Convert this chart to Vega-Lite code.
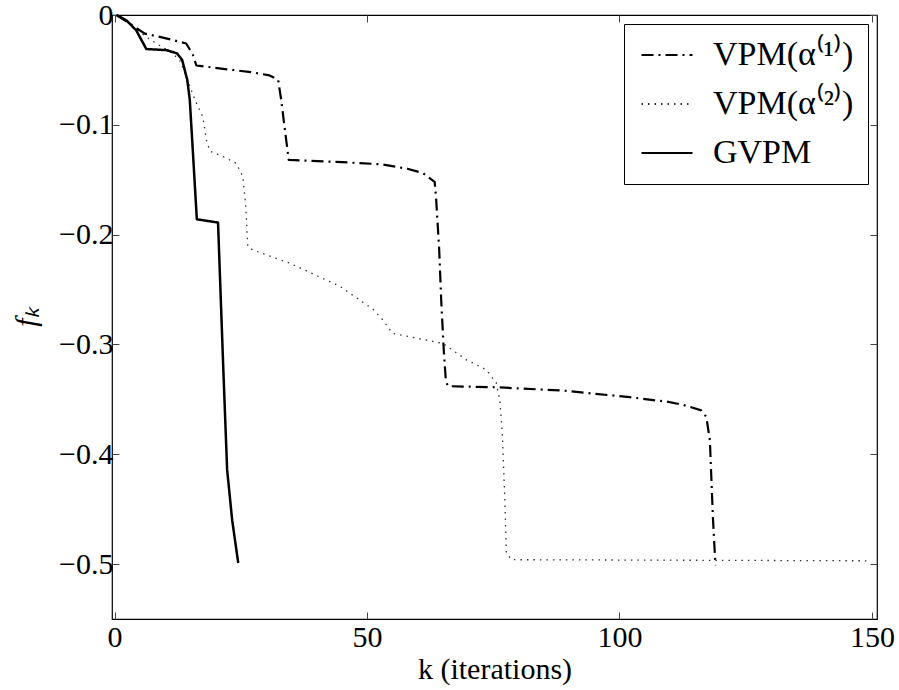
{
  "$schema": "https://vega.github.io/schema/vega-lite/v6.json",
  "width": 765,
  "height": 604,
  "autosize": {"type": "none"},
  "padding": {"left": 112, "top": 15, "right": 22, "bottom": 71},
  "config": {
    "view": {"stroke": "#000", "strokeWidth": 1.2},
    "font": "Liberation Serif, Times New Roman, serif",
    "style": {
      "guide-label": {"font": "Liberation Serif, Times New Roman, serif", "fontSize": 30, "fill": "#000"},
      "guide-title": {"font": "Liberation Serif, Times New Roman, serif", "fontSize": 30, "fill": "#000", "fontWeight": "normal"}
    },
    "axis": {
      "grid": false,
      "domain": false,
      "labelFont": "Liberation Serif, Times New Roman, serif",
      "labelFontSize": 30,
      "labelColor": "#000",
      "tickColor": "#444",
      "tickSize": -7,
      "tickWidth": 1,
      "titleFont": "Liberation Serif, Times New Roman, serif",
      "titleFontSize": 30,
      "titleFontWeight": "normal",
      "titleColor": "#000"
    },
    "legend": {
      "orient": "top-right",
      "offset": 9,
      "padding": 14,
      "strokeColor": "#000",
      "fillColor": "#fff",
      "labelFont": "Liberation Serif, Times New Roman, serif",
      "labelFontSize": 34,
      "labelColor": "#000",
      "labelLimit": 400,
      "symbolType": "M-1.7,0H1.7",
      "symbolSize": 900,
      "symbolStrokeWidth": 2,
      "symbolOffset": 12,
      "labelOffset": 29,
      "rowPadding": 15
    }
  },
  "data": {
    "values": [
      {"s": "GVPM", "k": 0.4, "f": 0},
      {"s": "GVPM", "k": 2.4, "f": -0.005},
      {"s": "GVPM", "k": 4.3, "f": -0.014},
      {"s": "GVPM", "k": 6.3, "f": -0.031},
      {"s": "GVPM", "k": 10.3, "f": -0.032},
      {"s": "GVPM", "k": 12.4, "f": -0.035},
      {"s": "GVPM", "k": 13.4, "f": -0.041},
      {"s": "GVPM", "k": 14.4, "f": -0.059},
      {"s": "GVPM", "k": 14.9, "f": -0.077},
      {"s": "GVPM", "k": 15.5, "f": -0.123},
      {"s": "GVPM", "k": 16.3, "f": -0.186},
      {"s": "GVPM", "k": 20.5, "f": -0.189},
      {"s": "GVPM", "k": 21.5, "f": -0.317},
      {"s": "GVPM", "k": 22.3, "f": -0.414},
      {"s": "GVPM", "k": 23.3, "f": -0.46},
      {"s": "GVPM", "k": 24.5, "f": -0.499},

      {"s": "VPM(α⁽¹⁾)", "k": 0.4, "f": 0},
      {"s": "VPM(α⁽¹⁾)", "k": 2.4, "f": -0.006},
      {"s": "VPM(α⁽¹⁾)", "k": 4, "f": -0.011},
      {"s": "VPM(α⁽¹⁾)", "k": 6, "f": -0.017},
      {"s": "VPM(α⁽¹⁾)", "k": 10, "f": -0.021},
      {"s": "VPM(α⁽¹⁾)", "k": 14.2, "f": -0.026},
      {"s": "VPM(α⁽¹⁾)", "k": 15.5, "f": -0.036},
      {"s": "VPM(α⁽¹⁾)", "k": 16.2, "f": -0.046},
      {"s": "VPM(α⁽¹⁾)", "k": 21.5, "f": -0.049},
      {"s": "VPM(α⁽¹⁾)", "k": 27, "f": -0.052},
      {"s": "VPM(α⁽¹⁾)", "k": 30.7, "f": -0.055},
      {"s": "VPM(α⁽¹⁾)", "k": 32.4, "f": -0.059},
      {"s": "VPM(α⁽¹⁾)", "k": 33, "f": -0.077},
      {"s": "VPM(α⁽¹⁾)", "k": 34, "f": -0.114},
      {"s": "VPM(α⁽¹⁾)", "k": 34.5, "f": -0.132},
      {"s": "VPM(α⁽¹⁾)", "k": 45, "f": -0.134},
      {"s": "VPM(α⁽¹⁾)", "k": 53, "f": -0.136},
      {"s": "VPM(α⁽¹⁾)", "k": 58, "f": -0.14},
      {"s": "VPM(α⁽¹⁾)", "k": 61.1, "f": -0.144},
      {"s": "VPM(α⁽¹⁾)", "k": 63.4, "f": -0.152},
      {"s": "VPM(α⁽¹⁾)", "k": 63.7, "f": -0.168},
      {"s": "VPM(α⁽¹⁾)", "k": 64.3, "f": -0.214},
      {"s": "VPM(α⁽¹⁾)", "k": 64.7, "f": -0.26},
      {"s": "VPM(α⁽¹⁾)", "k": 65.2, "f": -0.305},
      {"s": "VPM(α⁽¹⁾)", "k": 65.6, "f": -0.332},
      {"s": "VPM(α⁽¹⁾)", "k": 66, "f": -0.338},
      {"s": "VPM(α⁽¹⁾)", "k": 75.6, "f": -0.339},
      {"s": "VPM(α⁽¹⁾)", "k": 88.8, "f": -0.342},
      {"s": "VPM(α⁽¹⁾)", "k": 102, "f": -0.348},
      {"s": "VPM(α⁽¹⁾)", "k": 107.3, "f": -0.351},
      {"s": "VPM(α⁽¹⁾)", "k": 109.3, "f": -0.352},
      {"s": "VPM(α⁽¹⁾)", "k": 112.6, "f": -0.355},
      {"s": "VPM(α⁽¹⁾)", "k": 116.2, "f": -0.36},
      {"s": "VPM(α⁽¹⁾)", "k": 117.2, "f": -0.366},
      {"s": "VPM(α⁽¹⁾)", "k": 117.9, "f": -0.387},
      {"s": "VPM(α⁽¹⁾)", "k": 118.5, "f": -0.457},
      {"s": "VPM(α⁽¹⁾)", "k": 119, "f": -0.501},

      {"s": "VPM(α⁽²⁾)", "k": 0.4, "f": 0},
      {"s": "VPM(α⁽²⁾)", "k": 2.4, "f": -0.005},
      {"s": "VPM(α⁽²⁾)", "k": 4.3, "f": -0.013},
      {"s": "VPM(α⁽²⁾)", "k": 6.3, "f": -0.02},
      {"s": "VPM(α⁽²⁾)", "k": 8.3, "f": -0.026},
      {"s": "VPM(α⁽²⁾)", "k": 10.9, "f": -0.033},
      {"s": "VPM(α⁽²⁾)", "k": 12.9, "f": -0.041},
      {"s": "VPM(α⁽²⁾)", "k": 14.2, "f": -0.056},
      {"s": "VPM(α⁽²⁾)", "k": 15.9, "f": -0.077},
      {"s": "VPM(α⁽²⁾)", "k": 17.5, "f": -0.093},
      {"s": "VPM(α⁽²⁾)", "k": 18.2, "f": -0.114},
      {"s": "VPM(α⁽²⁾)", "k": 18.9, "f": -0.124},
      {"s": "VPM(α⁽²⁾)", "k": 21.5, "f": -0.129},
      {"s": "VPM(α⁽²⁾)", "k": 24.1, "f": -0.135},
      {"s": "VPM(α⁽²⁾)", "k": 25.4, "f": -0.147},
      {"s": "VPM(α⁽²⁾)", "k": 26, "f": -0.175},
      {"s": "VPM(α⁽²⁾)", "k": 26.4, "f": -0.211},
      {"s": "VPM(α⁽²⁾)", "k": 27.4, "f": -0.214},
      {"s": "VPM(α⁽²⁾)", "k": 34.7, "f": -0.226},
      {"s": "VPM(α⁽²⁾)", "k": 44.6, "f": -0.247},
      {"s": "VPM(α⁽²⁾)", "k": 51.2, "f": -0.268},
      {"s": "VPM(α⁽²⁾)", "k": 53, "f": -0.277},
      {"s": "VPM(α⁽²⁾)", "k": 55.1, "f": -0.29},
      {"s": "VPM(α⁽²⁾)", "k": 65, "f": -0.299},
      {"s": "VPM(α⁽²⁾)", "k": 69.7, "f": -0.314},
      {"s": "VPM(α⁽²⁾)", "k": 73.6, "f": -0.323},
      {"s": "VPM(α⁽²⁾)", "k": 75.6, "f": -0.335},
      {"s": "VPM(α⁽²⁾)", "k": 76.3, "f": -0.351},
      {"s": "VPM(α⁽²⁾)", "k": 76.8, "f": -0.381},
      {"s": "VPM(α⁽²⁾)", "k": 77.3, "f": -0.442},
      {"s": "VPM(α⁽²⁾)", "k": 77.6, "f": -0.49},
      {"s": "VPM(α⁽²⁾)", "k": 78.6, "f": -0.496},
      {"s": "VPM(α⁽²⁾)", "k": 149.2, "f": -0.497}
    ]
  },
  "layer": [
    {
      "encoding": {
        "x": {
          "field": "k", "type": "quantitative",
          "scale": {"domain": [-0.5, 151], "nice": false, "zero": false},
          "axis": {"values": [0, 50, 100, 150], "title": "k (iterations)", "labelFont": "Liberation Serif, Times New Roman, serif", "titleFont": "Liberation Serif, Times New Roman, serif", "labelPadding": 10, "titleY": 59, "titleBaseline": "alphabetic"}
        },
        "y": {
          "field": "f", "type": "quantitative",
          "scale": {"domain": [-0.55, 0], "nice": false, "zero": false},
          "axis": {"values": [0, -0.1, -0.2, -0.3, -0.4, -0.5], "format": ".1~f", "title": "fₖ", "labelFont": "Liberation Serif, Times New Roman, serif", "titleFont": "Liberation Serif, Times New Roman, serif", "titleFontStyle": "italic", "labelPadding": 6, "titleX": -86, "titleY": 302, "titleBaseline": "middle", "titleAngle": -90}
        },
        "color": {
          "field": "s", "type": "nominal",
          "scale": {"domain": ["VPM(α⁽¹⁾)", "VPM(α⁽²⁾)", "GVPM"], "range": ["#000000", "#333333", "#000000"]},
          "legend": {"title": null}
        },
        "strokeDash": {
          "field": "s", "type": "nominal",
          "scale": {"domain": ["VPM(α⁽¹⁾)", "VPM(α⁽²⁾)", "GVPM"], "range": [[12, 5, 2, 5], [1.5, 5], [1, 0]]},
          "legend": {"title": null}
        }
      },
      "layer": [
        {
          "transform": [{"filter": "datum.s === 'VPM(α⁽²⁾)'"}],
          "mark": {"type": "line", "strokeCap": "butt", "strokeWidth": 1.3}
        },
        {
          "transform": [{"filter": "datum.s === 'VPM(α⁽¹⁾)'"}],
          "mark": {"type": "line", "strokeCap": "butt", "strokeJoin": "round", "strokeWidth": 2.2}
        },
        {
          "transform": [{"filter": "datum.s === 'GVPM'"}],
          "mark": {"type": "line", "strokeCap": "butt", "strokeJoin": "round", "strokeWidth": 2.5}
        }
      ]
    },
    {
      "mark": {"type": "line", "opacity": 0},
      "encoding": {
        "x": {"field": "k", "type": "quantitative", "axis": {"orient": "top", "labels": false, "title": null, "values": [0, 50, 100, 150]}},
        "y": {"field": "f", "type": "quantitative", "axis": {"orient": "right", "labels": false, "title": null, "values": [0, -0.1, -0.2, -0.3, -0.4, -0.5]}}
      }
    }
  ],
  "resolve": {"axis": {"x": "independent", "y": "independent"}}
}
